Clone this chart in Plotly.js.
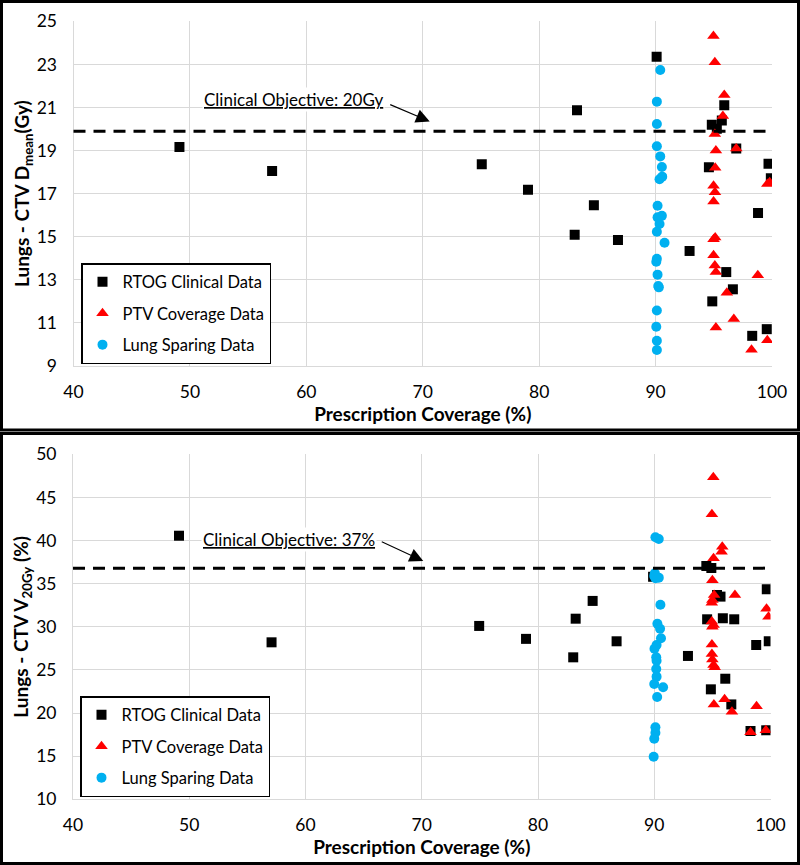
<!DOCTYPE html>
<html>
<head>
<meta charset="utf-8">
<script src="https://cdn.plot.ly/plotly-3.0.1.min.js"></script>
<style>html,body{margin:0;padding:0;background:#fff;}#chart{width:800px;height:865px;}</style>
</head>
<body>
<div id="chart"></div>
<script>
// ---- Data (top panel: Lungs - CTV Dmean, Gy) ----
const rtogX1 = [49.1, 57.06, 75.07, 79.04, 83.05, 83.25, 84.7, 86.77, 90.09, 92.92, 94.58, 94.83, 95.26, 95.69, 95.9, 96.07, 96.64, 94.87, 96.93, 98.3, 98.8, 99.55, 99.7, 99.9];
const rtogY1 = [19.17, 18.05, 18.36, 17.18, 15.09, 20.87, 16.46, 14.85, 23.36, 14.34, 18.22, 20.2, 20.01, 20.39, 21.1, 13.36, 12.56, 12.0, 19.1, 10.4, 16.1, 10.71, 18.39, 17.71];
const ptvX1 = [94.97, 95.09, 95.9, 95.78, 95.09, 96.93, 95.18, 95.12, 94.98, 95.1, 94.98, 99.8, 99.6, 95.12, 94.98, 94.98, 95.09, 95.18, 98.78, 96.12, 96.72, 95.18, 99.6, 98.24];
const ptvY1 = [24.32, 23.1, 21.58, 20.6, 19.77, 19.1, 19.0, 18.2, 17.37, 17.07, 16.64, 17.53, 17.45, 14.97, 14.88, 14.14, 13.67, 13.36, 13.21, 12.4, 11.18, 10.79, 10.19, 9.75];
const lungX1 = [90.4, 90.11, 90.11, 90.11, 90.4, 90.54, 90.57, 90.34, 90.17, 90.54, 90.17, 90.34, 90.11, 90.77, 90.11, 90.06, 90.17, 90.23, 90.28, 90.11, 90.06, 90.11, 90.11];
const lungY1 = [22.74, 21.27, 20.23, 19.2, 18.73, 18.24, 17.79, 17.67, 16.44, 15.97, 15.9, 15.59, 15.23, 14.72, 13.98, 13.84, 13.24, 12.71, 12.65, 11.58, 10.82, 10.17, 9.74];

// ---- Data (bottom panel: Lungs - CTV V20Gy, %) ----
const rtogX2 = [49.12, 57.08, 74.94, 78.97, 83.03, 83.24, 84.7, 86.76, 89.9, 92.9, 94.48, 94.91, 95.4, 95.7, 94.55, 95.9, 96.88, 96.11, 94.87, 96.63, 98.28, 99.63, 98.77, 99.85, 99.68];
const rtogY2 = [40.56, 28.2, 30.1, 28.6, 26.46, 30.94, 33.0, 28.32, 35.8, 26.62, 37.05, 36.82, 33.69, 33.5, 30.87, 30.99, 30.87, 23.98, 22.75, 21.0, 17.92, 18.0, 27.89, 28.32, 34.35];
const ptvX2 = [95.08, 94.96, 95.85, 95.79, 95.1, 95.0, 95.15, 96.94, 95.0, 94.95, 99.66, 99.83, 94.95, 95.1, 95.0, 94.96, 94.96, 95.0, 95.1, 95.2, 96.05, 95.13, 96.68, 98.8, 98.28, 99.6];
const ptvY2 = [47.33, 43.04, 39.29, 38.71, 37.94, 35.4, 33.69, 33.69, 33.1, 32.8, 32.1, 31.17, 30.6, 30.2, 30.0, 27.95, 26.85, 26.2, 25.57, 25.3, 21.6, 21.0, 20.16, 20.8, 17.77, 18.0];
const lungX2 = [90.1, 90.39, 90.05, 90.0, 90.1, 90.39, 90.53, 90.27, 90.5, 90.58, 90.2, 90.02, 90.17, 90.2, 90.17, 90.2, 90.0, 90.76, 90.25, 90.1, 90.1, 90.0, 89.95];
const lungY2 = [40.38, 40.18, 36.2, 35.9, 35.62, 35.7, 32.56, 30.36, 29.78, 28.67, 27.89, 27.46, 26.46, 26.07, 25.1, 24.22, 23.37, 22.99, 21.86, 18.35, 17.72, 17.03, 14.94];

const seriesNames = ['RTOG Clinical Data', 'PTV Coverage Data', 'Lung Sparing Data'];
const objective1 = 19.9, objective2 = 36.8;
const objText1 = 'Clinical Objective: 20Gy', objText2 = 'Clinical Objective: 37%';
const xTicks = [40, 50, 60, 70, 80, 90, 100];
const yTicks1 = [9, 11, 13, 15, 17, 19, 21, 23, 25];
const yTicks2 = [10, 15, 20, 25, 30, 35, 40, 45, 50];

const FONT = 'Lato, "Open Sans", sans-serif';
const W = 800, H = 865;
const px = v => v / W, py = v => 1 - v / H;

function traces(xs, ys, suffix, legendName) {
  const styles = [
    {symbol: 'square', color: '#000000', size: 10},
    {symbol: 'triangle-up', color: '#ff0000', size: 11},
    {symbol: 'circle', color: '#00b0f0', size: 10}
  ];
  return xs.map((x, i) => ({
    type: 'scatter', mode: 'markers', x: x, y: ys[i], name: seriesNames[i],
    xaxis: 'x' + suffix, yaxis: 'y' + suffix, legend: legendName, legendgroup: legendName + i,
    marker: {symbol: styles[i].symbol, color: styles[i].color, size: styles[i].size, line: {width: 0}},
    hoverinfo: 'x+y'
  }));
}

const data = [].concat(
  traces([rtogX1, ptvX1, lungX1], [rtogY1, ptvY1, lungY1], '', 'legend'),
  traces([rtogX2, ptvX2, lungX2], [rtogY2, ptvY2, lungY2], '2', 'legend2')
);

const axCommon = {
  showgrid: true, gridcolor: '#d9d9d9', gridwidth: 1, zeroline: false,
  showline: true, linecolor: '#d9d9d9', linewidth: 1, ticks: '',
  tickfont: {family: FONT, size: 17.5, color: '#000'}
};
const titleFont = {family: FONT, size: 19, color: '#000', weight: 'bold'};
const legendCommon = {
  xanchor: 'left', yanchor: 'top', bgcolor: '#fff', bordercolor: '#000', borderwidth: 1.5,
  font: {family: FONT, size: 16.5, color: '#000'}, tracegroupgap: 7, itemwidth: 30
};
const annFont = {family: FONT, size: 17, color: '#000'};

const layout = {
  width: W, height: H, margin: {l: 0, r: 0, t: 0, b: 0},
  paper_bgcolor: '#fff', plot_bgcolor: '#fff', showlegend: true,
  xaxis: Object.assign({}, axCommon, {domain: [px(73.5), px(772)], range: [40, 100], tickvals: xTicks, anchor: 'y',
    ticklabelstandoff: 10, title: {text: '<b>Prescription Coverage (%)</b>', font: titleFont, standoff: 4}}),
  yaxis: Object.assign({}, axCommon, {domain: [py(366), py(21.3)], range: [9, 25], tickvals: yTicks1, anchor: 'x',
    ticklabelstandoff: 12, title: {text: '<b>Lungs - CTV D<sub>mean</sub>(Gy)</b>', font: titleFont, standoff: 2}}),
  xaxis2: Object.assign({}, axCommon, {domain: [px(73), px(770.5)], range: [40, 100], tickvals: xTicks, anchor: 'y2',
    ticklabelstandoff: 10, title: {text: '<b>Prescription Coverage (%)</b>', font: titleFont, standoff: 6}}),
  yaxis2: Object.assign({}, axCommon, {domain: [py(799.3), py(454.3)], range: [10, 50], tickvals: yTicks2, anchor: 'x2',
    ticklabelstandoff: 12, title: {text: '<b>Lungs - CTV V<sub>20Gy</sub> (%)</b>', font: titleFont, standoff: 2}}),
  legend: Object.assign({}, legendCommon, {x: px(81), y: py(263)}),
  legend2: Object.assign({}, legendCommon, {x: px(80), y: py(696)}),
  shapes: [
    {type: 'line', xref: 'x domain', yref: 'y', x0: 0, x1: 1, y0: objective1, y1: objective1,
      line: {color: '#000', width: 3, dash: '12px,8px'}},
    {type: 'line', xref: 'x2 domain', yref: 'y2', x0: 0, x1: 1, y0: objective2, y1: objective2,
      line: {color: '#000', width: 3, dash: '12px,8px'}},
    {type: 'rect', xref: 'paper', yref: 'paper', x0: px(1.5), x1: px(798.5), y0: py(1.5), y1: py(430),
      line: {color: '#000', width: 3}, layer: 'above'},
    {type: 'rect', xref: 'paper', yref: 'paper', x0: px(1.5), x1: px(798.5), y0: py(433.5), y1: py(863.5),
      line: {color: '#000', width: 3}, layer: 'above'}
  ],
  annotations: [
    {xref: 'x', yref: 'y', x: 58.9, y: 21.39, text: '<u>' + objText1 + '</u>', showarrow: false,
      font: annFont, bgcolor: '#fff'},
    {xref: 'x', yref: 'y', x: 70.6, y: 20.35, text: '', showarrow: true, ax: -41, ay: -17.5,
      arrowhead: 2, arrowsize: 2.5, arrowwidth: 1.1, arrowcolor: '#000'},
    {xref: 'x2', yref: 'y2', x: 58.6, y: 40.18, text: '<u>' + objText2 + '</u>', showarrow: false,
      font: annFont, bgcolor: '#fff'},
    {xref: 'x2', yref: 'y2', x: 70.13, y: 37.63, text: '', showarrow: true, ax: -43, ay: -20,
      arrowhead: 2, arrowsize: 2.5, arrowwidth: 1.1, arrowcolor: '#000'}
  ]
};

Plotly.newPlot('chart', data, layout, {staticPlot: true, displayModeBar: false});
</script>
</body>
</html>
